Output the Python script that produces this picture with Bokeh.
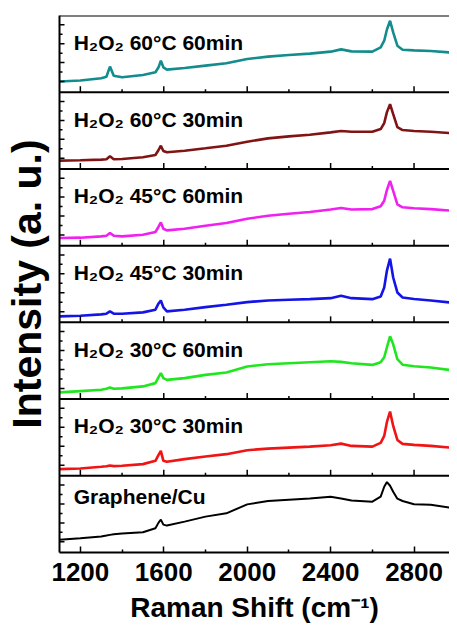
import numpy as np
from bokeh.plotting import figure
from bokeh.models import Range1d, FixedTicker, Span
from bokeh.embed import file_html
from bokeh.resources import INLINE
from bokeh.core.properties import value

# Raman shift positions (cm^-1) at which the spectra were read
shift = [1100, 1200, 1300, 1325, 1342, 1360, 1400, 1500, 1560, 1575, 1586, 1598,
         1615, 1700, 1800, 1900, 2000, 2100, 2200, 2300, 2400, 2450, 2500, 2600,
         2640, 2657, 2670, 2685, 2700, 2720, 2745, 2800, 2880, 2970]

# intensities (a. u.), each panel on its own scale (listed top panel first)
h2o2_60c_60min = [10.7, 11.7, 14.0, 15.5, 25.7, 16.5, 15.0, 17.3, 20.0, 25.0, 31.7, 25.0,
                  22.7, 24.3, 26.7, 29.0, 33.3, 35.7, 37.3, 38.7, 40.7, 43.0, 41.0, 40.7,
                  45.0, 51.7, 63.0, 71.7, 60.0, 46.7, 42.7, 42.0, 41.3, 40.0]
h2o2_60c_30min = [8.3, 8.7, 9.3, 9.7, 12.7, 9.7, 10.0, 11.7, 14.0, 19.0, 23.3, 18.0,
                  16.7, 18.3, 20.7, 23.3, 27.3, 30.7, 32.7, 34.3, 36.7, 38.0, 37.3, 37.3,
                  40.0, 46.0, 57.0, 65.0, 55.0, 42.0, 39.0, 38.0, 37.3, 36.0]
h2o2_45c_60min = [7.7, 8.0, 9.3, 10.0, 12.7, 10.0, 9.3, 11.0, 13.7, 19.0, 23.3, 17.0,
                  15.3, 17.0, 20.0, 22.7, 27.0, 30.0, 32.0, 33.7, 36.3, 37.7, 36.3, 36.7,
                  39.5, 45.0, 56.0, 65.0, 55.0, 41.5, 38.5, 37.5, 36.7, 35.3]
h2o2_45c_30min = [6.0, 6.7, 8.0, 8.7, 11.0, 8.7, 8.7, 10.0, 12.7, 19.0, 22.0, 15.0,
                  11.0, 12.7, 15.3, 17.7, 20.3, 22.0, 22.7, 23.3, 24.3, 26.7, 24.3, 23.3,
                  26.0, 35.0, 52.0, 64.0, 45.0, 30.0, 25.0, 23.5, 22.0, 20.0]
h2o2_30c_60min = [6.7, 8.0, 9.3, 10.3, 11.7, 10.3, 10.7, 12.7, 16.0, 22.0, 26.0, 21.0,
                  19.3, 21.0, 24.3, 26.7, 32.7, 35.0, 36.0, 37.0, 38.0, 37.3, 36.0, 34.3,
                  37.0, 42.0, 52.0, 63.0, 55.0, 40.0, 34.5, 33.0, 31.7, 29.3]
h2o2_30c_30min = [6.7, 7.3, 9.0, 9.5, 10.3, 9.7, 10.0, 11.7, 15.0, 21.0, 25.0, 15.0,
                  14.0, 16.7, 19.3, 21.7, 25.7, 27.3, 28.3, 29.3, 30.7, 32.3, 30.0, 29.3,
                  33.0, 40.0, 54.0, 64.5, 50.0, 36.0, 32.0, 31.0, 30.0, 28.3]
graphene_cu = [12.7, 14.3, 16.0, 17.0, 17.7, 18.3, 19.0, 20.3, 24.3, 30.0, 33.0, 28.0,
               27.0, 31.0, 36.0, 39.3, 48.3, 51.7, 53.0, 54.3, 56.0, 54.3, 52.3, 51.0,
               56.0, 66.0, 70.7, 67.0, 61.0, 54.0, 51.7, 48.5, 48.0, 45.0]

labels = ["H\u2082O\u2082 60\u00b0C 60min", "H\u2082O\u2082 60\u00b0C 30min",
          "H\u2082O\u2082 45\u00b0C 60min", "H\u2082O\u2082 45\u00b0C 30min",
          "H\u2082O\u2082 30\u00b0C 60min", "H\u2082O\u2082 30\u00b0C 30min",
          "Graphene/Cu"]
series = [h2o2_60c_60min, h2o2_60c_30min, h2o2_45c_60min, h2o2_45c_30min,
          h2o2_30c_60min, h2o2_30c_30min, graphene_cu]
colors = ["#128c8c", "#801414", "#f020f0", "#1414e6", "#20e620", "#f01414", "#000000"]

x_major = [1200, 1600, 2000, 2400, 2800]
x_minor = [1400, 1800, 2200, 2600]
y_major = [10.7, 29.7, 48.7, 67.7]   # per panel
y_minor = [20.2, 39.2, 58.2]

FONT = "Liberation Sans"
PH = 77            # height of one panel in intensity units
n = len(series)

p = figure(width=449, height=630,
           x_range=Range1d(1100, 2970), y_range=Range1d(0, n * PH),
           output_backend="svg", toolbar_location=None,
           min_border_left=53, min_border_right=0, min_border_top=15,
           min_border_bottom=78)
p.outline_line_color = None
p.grid.visible = False
p.background_fill_color = "white"
p.border_fill_color = "white"

for i in range(n):
    k = n - 1 - i                      # panel index from the bottom
    base = k * PH
    p.line(shift, np.array(series[i]) + base, line_color=colors[i],
           line_width=2.0 if k == 0 else 2.6)
    p.text(x=[1168], y=[base + PH - (21 if k == 0 else 27)], text=[labels[i]],
           text_font=value(FONT), text_font_style="bold", text_font_size="21px",
           text_color="black", text_align="left", text_baseline="alphabetic")

# panel borders
for k in range(1, n + 1):
    p.add_layout(Span(location=k * PH, dimension="width", line_color="black",
                      line_width=2))

# inward x ticks on the inner panel borders
levels = [k * PH for k in range(1, n)]
p.ray(x=[x for _ in levels for x in x_major], y=[lv for lv in levels for _ in x_major],
      length=6, length_units="screen", angle=np.pi / 2,
      line_color="black", line_width=1.5)
p.ray(x=[x for _ in levels for x in x_minor], y=[lv for lv in levels for _ in x_minor],
      length=3, length_units="screen", angle=np.pi / 2,
      line_color="black", line_width=1.5)

# inward y ticks on the left edge of every panel
y_maj_all = [k * PH + t for k in range(n) for t in y_major]
y_min_all = [k * PH + t for k in range(n) for t in y_minor]
p.ray(x=[1100] * len(y_maj_all), y=y_maj_all, length=5, length_units="screen",
      angle=0, line_color="black", line_width=1.5)
p.ray(x=[1100] * len(y_min_all), y=y_min_all, length=3, length_units="screen",
      angle=0, line_color="black", line_width=1.5)

xa = p.xaxis[0]
xa.ticker = FixedTicker(ticks=x_major, minor_ticks=x_minor)
xa.axis_line_width = 2
xa.axis_line_color = "black"
xa.major_tick_in = 6
xa.major_tick_out = 0
xa.minor_tick_in = 3
xa.minor_tick_out = 0
xa.major_tick_line_width = 1.5
xa.minor_tick_line_width = 1.5
xa.major_label_text_font = FONT
xa.major_label_text_font_style = "bold"
xa.major_label_text_font_size = "26px"
xa.major_label_text_color = "black"
xa.major_label_standoff = 10
xa.axis_label = "Raman Shift (cm\u207b\u00b9)"
xa.axis_label_text_font = FONT
xa.axis_label_text_font_style = "bold"
xa.axis_label_text_font_size = "28px"
xa.axis_label_text_color = "black"
xa.axis_label_standoff = 8

ya = p.yaxis[0]
ya.ticker = FixedTicker(ticks=[])
ya.axis_line_width = 2
ya.axis_line_color = "black"
ya.major_tick_in = 0
ya.major_tick_out = 0
ya.minor_tick_in = 0
ya.minor_tick_out = 0
ya.major_label_standoff = 0
ya.axis_label = "Intensity (a. u.)"
ya.axis_label_text_font = FONT
ya.axis_label_text_font_style = "bold"
ya.axis_label_text_font_size = "41px"
ya.axis_label_text_color = "black"
ya.axis_label_standoff = 10

open("out.html", "w").write(file_html(p, INLINE))
